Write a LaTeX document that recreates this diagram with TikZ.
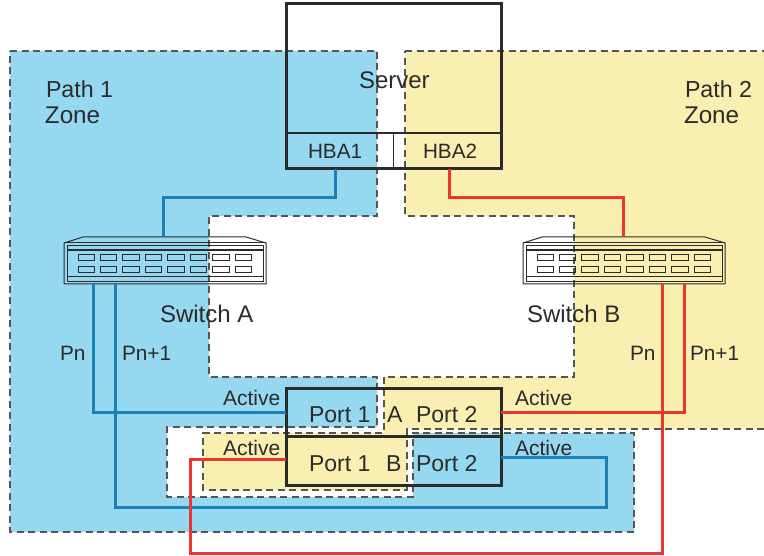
\documentclass[tikz,border=0pt]{standalone}
\usepackage{fontspec}
\setmainfont{Liberation Sans}
\definecolor{zoneblue}{HTML}{95D8F0}
\definecolor{zoneyellow}{HTML}{F9EFB0}
\definecolor{linkblue}{HTML}{1B80B8}
\definecolor{linkred}{HTML}{EE3333}
\definecolor{ink}{HTML}{2B2B2B}
\definecolor{zoneline}{HTML}{555555}
\tikzset{
  zoneedge/.style={draw=zoneline,line width=1.25pt,dash pattern=on 7pt off 4.5pt},
  boxthick/.style={draw=ink,line width=3pt,inner sep=0pt,outer sep=0pt,rectangle},
  boxthin/.style={draw=ink,line width=1.3pt,inner sep=0pt,outer sep=0pt,rectangle},
  lab/.style={text=ink,inner sep=0pt,outer sep=0pt,anchor=base west,yshift=-0.6pt},
  bluelink/.style={draw=linkblue,line width=3pt},
  redlink/.style={draw=linkred,line width=3pt},
  swline/.style={draw=ink,line width=1pt},
  swport/.style={draw=ink,line width=1pt},
}
\newcommand{\fs}[1]{\fontsize{#1}{#1}\selectfont}
\newcommand{\switchbody}[1]{%
  \begin{scope}[shift={(#1,0)}]
    \draw[swline,line join=round] (0,243) -- (19,237) -- (182,237) -- (202,243) -- (202,284) -- (0,284) -- cycle;
    \draw[swline] (3,246) rectangle (199,282);
    \draw[swline] (0,243) -- (202,243);
    \draw[swline,line width=1.4pt] (3,250) -- (199,250);
    \draw[swline] (3,277) -- (199,277);
    \foreach \k in {0,...,7}{
      \draw[swport] ({14+22.45*\k},254.5) rectangle ++(16.3,6);
      \draw[swport] ({14+22.45*\k},266.5) rectangle ++(16.3,6);
    }
  \end{scope}}
\begin{document}
\begin{tikzpicture}[x=1pt,y=-1pt]
\useasboundingbox (0,0) rectangle (764,556);
% zones
\fill[zoneblue] (10,51) -- (377,51) -- (377,216) -- (209,216) -- (209,377) -- (377,377) -- (377,427) -- (167,427) -- (167,497) -- (413,497) -- (413,433) -- (634,433) -- (634,532) -- (10,532) -- cycle;
\fill[zoneyellow] (405,51) -- (764,51) -- (764,429) -- (407,429) -- (407,490) -- (203,490) -- (203,433) -- (384,433) -- (384,377) -- (574,377) -- (574,216) -- (405,216) -- cycle;
\draw[zoneedge] (10,51) -- (377,51) -- (377,216) -- (209,216) -- (209,377) -- (377,377) -- (377,427) -- (167,427) -- (167,497) -- (413,497) -- (413,433) -- (634,433) -- (634,532) -- (10,532) -- cycle;
\draw[zoneedge] (405,51) -- (764,51);
\draw[zoneedge] (764,429) -- (407,429) -- (407,490) -- (203,490) -- (203,433) -- (384,433) -- (384,377) -- (574,377) -- (574,216) -- (405,216) -- (405,51);
% server
\node[boxthin,minimum width=107.5pt,minimum height=36pt] (hbaone) at (339.75,151) {};
\node[boxthin,minimum width=107.5pt,minimum height=36pt] (hbatwo) at (447.25,151) {};
\node[boxthick,minimum width=215pt,minimum height=165pt] (server) at (393.5,86.5) {};
\node[lab,font=\fs{24}] (servertext) at (359,88) {Server};
\node[lab,font=\fs{20.7}] (hbaonetext) at (308,158) {HBA1};
\node[lab,font=\fs{20.7}] (hbatwotext) at (423,158) {HBA2};
% switches
\node[inner sep=0pt,outer sep=0pt,minimum width=202pt,minimum height=47pt] (swa) at (165,260.5) {};
\node[inner sep=0pt,outer sep=0pt,minimum width=202pt,minimum height=47pt] (swb) at (624,260.5) {};
\switchbody{64}
\switchbody{523}
\node[lab,font=\fs{24}] (swatext) at (160,322) {Switch A};
\node[lab,font=\fs{24}] (swbtext) at (527,322) {Switch B};
% storage
\node[boxthick,minimum width=215pt,minimum height=47pt] (ctla) at (393.5,412.5) {};
\node[boxthick,minimum width=215pt,minimum height=49pt] (ctlb) at (393.5,460.5) {};
\node[lab,font=\fs{23}] (pa1) at (309,422) {Port 1};
\node[lab,font=\fs{23}] (pa2) at (416,422) {Port 2};
\node[lab,font=\fs{23}] (la) at (387,422) {A};
\node[lab,font=\fs{23}] (pb1) at (309,471) {Port 1};
\node[lab,font=\fs{23}] (pb2) at (416,471) {Port 2};
\node[lab,font=\fs{23}] (lb) at (386,471) {B};
% labels
\node[lab,font=\fs{23.2}] (z1a) at (46,97) {Path 1};
\node[lab,font=\fs{24.2}] (z1b) at (45,123) {Zone};
\node[lab,font=\fs{23.2}] (z2a) at (685,97) {Path 2};
\node[lab,font=\fs{24.2}] (z2b) at (684,123) {Zone};
\node[lab,font=\fs{20.8}] (pna) at (60,360) {Pn};
\node[lab,font=\fs{20.8}] (pnpa) at (122,360) {Pn+1};
\node[lab,font=\fs{20.8}] (pnb) at (630,360) {Pn};
\node[lab,font=\fs{20.8}] (pnpb) at (690,360) {Pn+1};
\node[lab,font=\fs{21}] (ac1) at (223,405) {Active};
\node[lab,font=\fs{21}] (ac2) at (515,405) {Active};
\node[lab,font=\fs{21}] (ac3) at (223,455) {Active};
\node[lab,font=\fs{21}] (ac4) at (515,455) {Active};
% connectors
\draw[bluelink] ([xshift=-4.75pt]hbaone.south) |- (163,198) -- (163,236);
\draw[redlink] ([xshift=1.75pt]hbatwo.south) |- (623,198) -- (623,236);
\draw[bluelink] ([xshift=-72pt]swa.south) |- (ctla.west);
\draw[bluelink] ([xshift=-50pt]swa.south) |- (606,507) |- ([yshift=3.5pt]ctlb.east);
\draw[redlink] ([xshift=60pt]swb.south) |- (ctla.east);
\draw[redlink] ([xshift=38pt]swb.south) |- (190,553) |- ([yshift=1.5pt]ctlb.west);
\end{tikzpicture}
\end{document}
